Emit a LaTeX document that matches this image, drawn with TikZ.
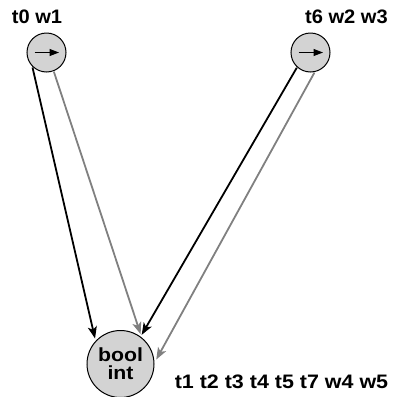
\documentclass[tikz,border=0pt]{standalone}
\usepackage{fontspec}
\setmainfont{Liberation Sans}
\usetikzlibrary{arrows.meta}
\definecolor{nodefill}{HTML}{D3D3D3}
\definecolor{edgegray}{HTML}{808080}
\newcommand{\widetext}[2]{\scalebox{#1}[1]{#2}}
\tikzset{
  smallnode/.style={circle, draw=black, line width=1pt, fill=nodefill,
    minimum size=39pt, inner sep=0pt, outer sep=1pt},
  bignode/.style={circle, draw=black, line width=1pt, fill=nodefill,
    minimum size=67pt, inner sep=0pt, outer sep=2.5pt, align=center,
    font=\bfseries\fontsize{19}{18}\selectfont},
  tag/.style={font=\bfseries\fontsize{19.5}{22}\selectfont, inner sep=0pt, anchor=base},
  edge/.style={line width=1.8pt, -{Stealth[length=12pt,width=9pt,inset=3pt]}},
  blackedge/.style={edge, draw=black},
  grayedge/.style={edge, draw=edgegray, color=edgegray},
  innerarrow/.style={line width=1pt, -{Triangle[length=9.5pt,width=7pt]}}
}
\begin{document}
\begin{tikzpicture}[x=1pt,y=-1pt]
  \useasboundingbox (0,0) rectangle (394,397);

  % nodes
  \node[smallnode] (a) at (46.5,52.5) {};
  \node[smallnode] (b) at (310.5,52.5) {};
  \node[bignode] (c) at (120.5,364) {\widetext{1.12}{bool}\\\widetext{1.12}{int}};

  % arrow glyphs inside the small nodes
  \draw[innerarrow] ([xshift=-12pt]a.center) -- ([xshift=12.5pt]a.center);
  \draw[innerarrow] ([xshift=-12pt]b.center) -- ([xshift=12.5pt]b.center);

  % labels
  \node[tag] (la) at (37,23) {\widetext{1.03}{t0 w1}};
  \node[tag] (lb) at (346.5,23) {\widetext{1.03}{t6 w2 w3}};
  \node[tag] (lc) at (281.5,388) {\widetext{1.1}{t1 t2 t3 t4 t5 t7 w4 w5}};

  % edges
  \draw[blackedge] (a.227) -- (c.135);
  \draw[grayedge]  (a.291) -- (c.56);
  \draw[blackedge] (b.228) -- (c.54);
  \draw[grayedge]  (b.281) -- (c.7);
\end{tikzpicture}
\end{document}
